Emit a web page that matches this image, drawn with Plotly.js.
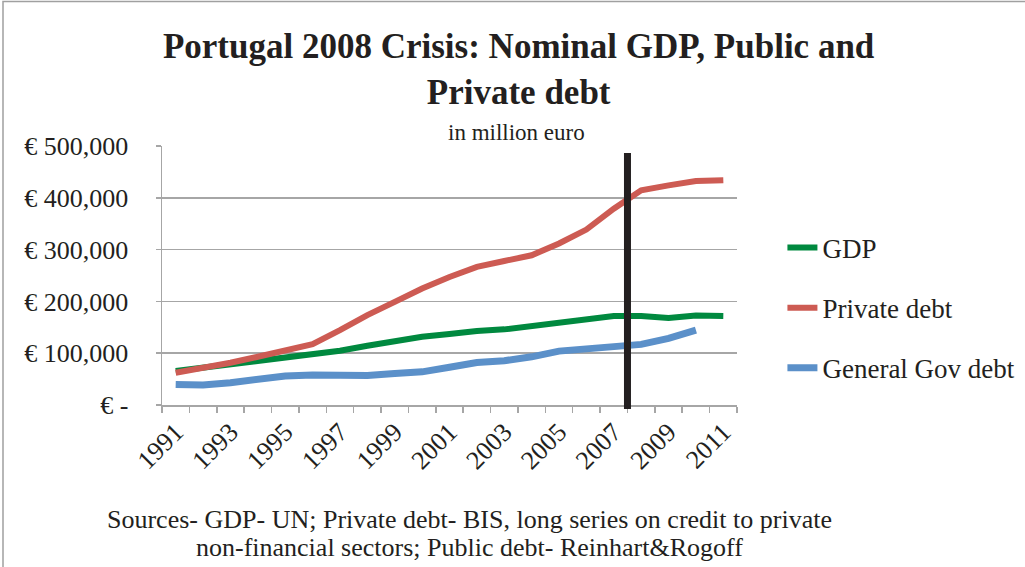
<!DOCTYPE html>
<html>
<head>
<meta charset="utf-8">
<script src="https://cdn.plot.ly/plotly-3.0.1.min.js"></script>
<style>html,body{margin:0;padding:0;background:#fff;}#chart{width:1025px;height:567px;}</style>
</head>
<body>
<div id="chart"></div>
<script>
var years = [1991,1992,1993,1994,1995,1996,1997,1998,1999,2000,2001,2002,2003,2004,2005,2006,2007,2008,2009,2010,2011];
var gdp = [65500,72000,78400,86800,93200,97700,104800,114400,123400,131700,137000,143000,146000,152000,157500,164000,172000,172000,168000,173000,172000];
var privateDebt = [62300,70700,81600,93200,104000,117600,144600,173500,199000,225000,247000,266700,278000,289000,311700,338700,379000,414500,424000,432500,434000];
var govDebt = [39800,38600,43000,49500,56000,57800,58000,57000,61000,64000,73000,82000,85500,93000,104000,109000,114000,117000,128500,144600,null];
var yTickVals = [0,100000,200000,300000,400000,500000];
var yTickText = ['€ -','€ 100,000','€ 200,000','€ 300,000','€ 400,000','€ 500,000'];
var xTickVals = [1991,1993,1995,1997,1999,2001,2003,2005,2007,2009,2011];
var crisisX = 2007.5;
var sourceLines = ['Sources- GDP- UN; Private debt- BIS, long series on credit to private',
                   'non-financial sectors; Public debt- Reinhart&Rogoff'];

var serif = 'Liberation Serif, Times New Roman, serif';
var ink = '#231f20';
var traces = [
  {x: years, y: gdp, name: 'GDP', mode: 'lines', line: {color: '#00893f', width: 6}, legendgroup: 'a'},
  {x: years, y: privateDebt, name: 'Private debt', mode: 'lines', line: {color: '#cd5b53', width: 6}, legendgroup: 'b'},
  {x: years, y: govDebt, name: 'General Gov debt', mode: 'lines', line: {color: '#5b90c9', width: 7}, legendgroup: 'c'}
];
function px2x(p){ return (p-162)/575; }
function px2y(p){ return (405-p)/259; }
var layout = {
  width: 1025, height: 567,
  paper_bgcolor: '#fff', plot_bgcolor: '#fff',
  margin: {l: 162, r: 288, t: 146, b: 162, autoexpand: false},
  font: {family: serif, color: ink, size: 25},
  title: {
    text: '<b>Portugal 2008 Crisis: Nominal GDP, Public and<br>Private debt</b>',
    font: {family: serif, size: 35, color: ink},
    x: 0.506, xanchor: 'center', y: 0.897, yanchor: 'top'
  },
  xaxis: {
    range: [1990.5, 2011.5], tickmode: 'array', tickvals: xTickVals,
    ticktext: xTickVals.map(String), tickangle: -45, ticks: '', showgrid: false,
    showline: true, linecolor: '#a6a6a6', linewidth: 1.5, zeroline: false,
    tickfont: {family: serif, size: 26, color: ink},
    minor: {tick0: 1990.5, dtick: 1, ticks: 'outside', ticklen: 6, tickcolor: '#a6a6a6', tickwidth: 1.5, showgrid: false}
  },
  yaxis: {
    range: [0, 500000], tickmode: 'array', tickvals: yTickVals, ticktext: yTickText,
    ticks: 'outside', ticklen: 5, tickcolor: '#a6a6a6', tickwidth: 1.5,
    showline: true, linecolor: '#a6a6a6', linewidth: 1.5,
    showgrid: true, gridcolor: '#a6a6a6', gridwidth: 1.5, zeroline: false,
    tickfont: {family: serif, size: 26, color: ink}, ticklabelstandoff: 22
  },
  showlegend: true,
  legend: {x: 1.079, xanchor: 'left', y: px2y(308), yanchor: 'middle', traceorder: 'grouped', tracegroupgap: 22,
    font: {family: serif, size: 27, color: ink}, bgcolor: 'rgba(0,0,0,0)'},
  shapes: [
    {type: 'line', xref: 'x', yref: 'paper', x0: crisisX, x1: crisisX, y0: px2y(409), y1: px2y(153),
     line: {color: ink, width: 7}},
    {type: 'rect', xref: 'paper', yref: 'paper', x0: px2x(3), x1: px2x(1090), y0: px2y(620), y1: px2y(1.5),
     line: {color: '#a0a0a0', width: 1.5}, fillcolor: 'rgba(0,0,0,0)', layer: 'below'}
  ],
  annotations: [
    {text: 'in million euro', xref: 'paper', yref: 'paper', x: px2x(516), y: px2y(132),
     xanchor: 'center', yanchor: 'middle', showarrow: false, font: {family: serif, size: 23, color: ink}},
    {text: sourceLines[0], xref: 'paper', yref: 'paper', x: px2x(469), y: px2y(519),
     xanchor: 'center', yanchor: 'middle', showarrow: false, font: {family: serif, size: 26, color: ink}},
    {text: sourceLines[1], xref: 'paper', yref: 'paper', x: px2x(470), y: px2y(547),
     xanchor: 'center', yanchor: 'middle', showarrow: false, font: {family: serif, size: 26, color: ink}}
  ]
};
Plotly.newPlot('chart', traces, layout, {displayModeBar: false, staticPlot: true});
</script>
</body>
</html>
